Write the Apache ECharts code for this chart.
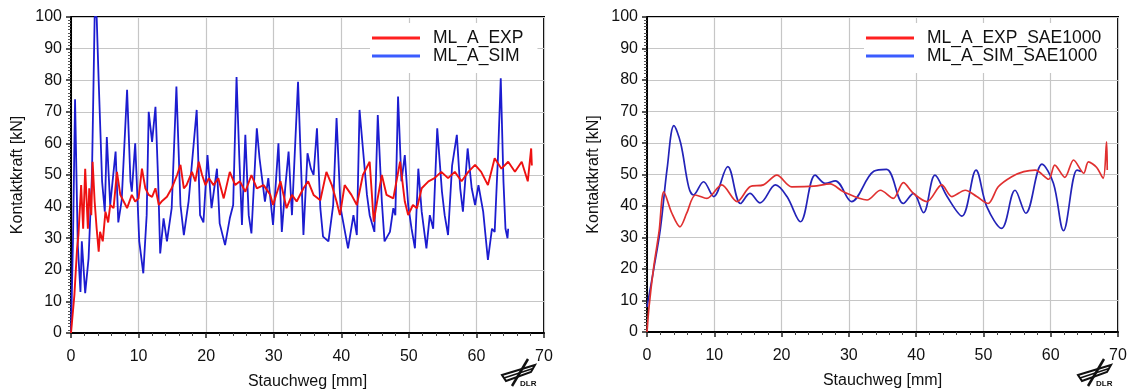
<!DOCTYPE html>
<html><head><meta charset="utf-8">
<script src="https://cdn.jsdelivr.net/npm/echarts@6/dist/echarts.min.js"></script>
<style>html,body{margin:0;padding:0;background:#fff}#c{width:1129px;height:392px}</style>
</head><body><div id="c"></div>
<script>
// ---- Data (x: Stauchweg [mm], y: Kontaktkraft [kN]) ----
const xTicks = [0,10,20,30,40,50,60,70];
const yTicks = [0,10,20,30,40,50,60,70,80,90,100];
const namesLeft = ['ML_A_EXP','ML_A_SIM'];
const namesRight = ['ML_A_EXP_SAE1000','ML_A_SIM_SAE1000'];

const expA = [[0,0],[0.5,12],[0.9,26.8],[1.1,31],[1.5,46.8],[1.8,33],[2.1,52],[2.5,33],[2.7,45.8],[3,37.3],[3.2,54.2],[3.5,41.6],[3.8,33],[4.1,25.7],[4.3,32],[4.7,29],[5.1,38.4],[5.5,35],[5.8,40.5],[6.3,39.5],[6.8,51],[7.3,43.7],[7.8,41.6],[8.3,39.5],[9,43.7],[9.5,41.6],[10,42.6],[10.5,52],[11,45.8],[11.5,43.7],[12,43.1],[12.5,45.8],[13,40.5],[13.4,41.6],[14.2,43.1],[14.9,45.8],[15.7,50],[16.2,53.2],[16.7,45.8],[17.1,46.8],[17.9,51],[18.4,48],[18.9,54.2],[19.4,50],[19.9,46.8],[20.4,49],[21.1,46.8],[21.8,49],[22.6,42.6],[23.5,51],[24.3,46.8],[25,48],[25.8,44.7],[26.7,50],[27.5,45.8],[28.5,46.8],[29.5,43.7],[29.9,40.5],[31,48],[31.9,39.5],[32.7,43.7],[33.4,41.6],[34.4,45.8],[35.1,48],[35.9,43.7],[36.9,42],[37.8,51],[38.6,46.8],[39.3,41.6],[39.8,37.3],[40.5,46.8],[41.5,43.7],[42.3,40.5],[43.2,50],[44.2,54.2],[44.8,35.2],[45.3,41.6],[46,50],[46.7,43.7],[47.7,42.6],[48.7,54.2],[49.4,41.6],[49.9,37.3],[50.6,40.5],[51.2,39.5],[51.9,45.8],[52.9,48],[53.8,49],[54.8,51],[55.8,49],[56.8,51],[57.8,48],[58.8,51],[59.8,53.2],[60.7,51],[61.7,46.8],[62.7,55.3],[63.7,52],[64.7,54.2],[65.7,51],[66.7,54.2],[67.6,48],[68.1,58.4],[68.2,53]];

const simA = [[0,0],[0.3,30],[0.6,74],[1,28],[1.4,13],[1.6,29],[2.1,12.6],[2.6,23.6],[3.1,50],[3.5,100],[3.8,100],[4.1,79.5],[4.6,48],[5,38.4],[5.3,62],[5.8,40.5],[6.6,57.4],[7,35],[7.5,42],[8.3,77],[8.8,48],[9,44.7],[9.5,60],[10.1,29],[10.7,18.9],[11.2,37.3],[11.5,70],[12,60.5],[12.5,71.6],[12.9,48],[13.2,25.2],[13.7,36.3],[14.2,29],[14.9,39.5],[15.6,78],[16.2,40.5],[16.7,31],[17.4,41.6],[18.6,70.6],[19.1,37.3],[19.6,35],[20.2,56.3],[20.8,39.5],[21.6,52],[22,34.7],[22.8,27.8],[23.5,36.3],[24,40.5],[24.5,81],[24.9,56],[25.3,34.2],[25.8,62.7],[26.3,37.3],[26.7,31.5],[27.5,64.8],[27.9,55.3],[28.7,41.6],[29.2,49],[29.9,34.2],[30.7,60],[31.2,32],[31.7,45.8],[32.2,57.4],[32.7,37.3],[33.6,79.5],[34.4,31],[35,56.9],[35.5,52],[35.9,50],[36.4,64.8],[36.9,39.5],[37.3,30.5],[38.1,29],[38.8,40.5],[39.3,68],[39.9,39.5],[41,26.8],[41.8,37.3],[42.3,31],[42.7,70.6],[43.2,58.4],[43.8,43.7],[44.2,37.3],[44.9,32],[45.4,69],[46,41.6],[46.4,29],[47.2,32],[47.7,39.5],[48,37.3],[48.4,74.8],[48.9,48],[49.4,56.3],[49.9,40.5],[50.4,33],[50.9,26.8],[51.4,52],[51.9,38.4],[52.6,26.8],[53.1,37.3],[53.6,33],[54.2,64.8],[54.9,44.7],[55.3,37.3],[55.8,31],[56.4,53],[57.1,62.7],[57.6,45.8],[58,38.4],[58.7,58.4],[59.3,45.8],[59.8,40.5],[60.3,46.8],[61,38.4],[61.7,23.1],[62.3,33],[62.7,32],[63.2,56.3],[63.6,80.6],[64,48],[64.3,33],[64.6,30],[64.7,33]];

const expSAE = [[0,0],[0.3,8],[1,20.7],[1.8,32],[2.5,44.5],[3.7,37.7],[4.9,33.4],[5.9,37.7],[7.2,43.5],[8.9,42.4],[11.1,46.7],[13.4,41.4],[15.3,46.1],[17.3,46.7],[19.3,49.8],[21.5,46.1],[24.8,46.3],[27.2,47],[29.2,44.5],[32.7,41.9],[34.7,45],[36.6,42.4],[38.1,47.4],[39.6,44],[41.6,41.4],[43.8,46.7],[45.3,43],[47.3,45],[49,43],[50.7,40.8],[52.2,46.1],[54.2,49.3],[56,50.9],[57.7,51.4],[59.7,48.5],[60.6,53],[62.1,49.1],[63.4,54.6],[64.9,50.4],[65.6,54],[66.8,52.3],[67.8,48.8],[68.3,60.4],[68.4,51.4]];

const simSAE = [[0,8],[1,20],[2,33],[3,52],[4,65.5],[5,60],[6.2,46],[6.9,43.5],[8.4,47.7],[9.9,43],[12,52.5],[13.9,40.8],[15.3,44],[16.8,41],[19.1,46.7],[20.8,43],[22.8,35],[25,49.8],[26.5,47.2],[28,48],[30.4,41.4],[33.7,51],[35.6,51.6],[38.1,40.8],[39.6,44],[41.1,37.9],[42.8,49.8],[44.6,43],[46.8,36.8],[48.9,51.4],[50.5,39.8],[52.7,32.9],[54.7,45],[56.3,37.7],[58.7,53.3],[60.4,47.2],[61.9,32.2],[63.9,51.4],[64.5,51]];

// ---- Styles ----
const FONT = 'Liberation Sans, Arial, Helvetica, sans-serif';
const RED = '#ee1111', BLUE = '#1c1cd0';

function xAxisFor(gi){
  return {
    type:'value', gridIndex:gi, min:xTicks[0], max:xTicks[xTicks.length-1], interval:10,
    name:'Stauchweg [mm]', nameLocation:'middle', nameGap:41,
    nameTextStyle:{fontFamily:FONT, fontSize:16, color:'#111'},
    axisLine:{show:true, onZero:false, lineStyle:{color:'#000', width:2}},
    axisTick:{show:true, length:5, inside:false, lineStyle:{color:'#222', width:1.5}},
    minorTick:{show:true, splitNumber:5, length:3, lineStyle:{color:'#444'}},
    axisLabel:{fontFamily:FONT, fontSize:16, color:'#111', margin:16},
    splitLine:{show:true, lineStyle:{color:'#c6c6c6', width:1.2}}
  };
}
function yAxisFor(gi){
  return {
    type:'value', gridIndex:gi, min:yTicks[0], max:yTicks[yTicks.length-1], interval:10,
    name:'Kontaktkraft [kN]', nameLocation:'middle', nameGap:45,
    nameTextStyle:{fontFamily:FONT, fontSize:16, color:'#111'},
    axisLine:{show:true, onZero:false, lineStyle:{color:'#000', width:2}},
    axisTick:{show:true, length:5, lineStyle:{color:'#222', width:1.5}},
    minorTick:{show:true, splitNumber:10, length:3, lineStyle:{color:'#555'}},
    axisLabel:{fontFamily:FONT, fontSize:16, color:'#111', margin:9},
    splitLine:{show:true, lineStyle:{color:'#c6c6c6', width:1.2}}
  };
}

function logo(cx, cy){
  return [
    {type:'polyline', shape:{points:[[cx+9,cy-14],[cx-7,cy+13]]}, style:{stroke:'#111', lineWidth:2.5, fill:null}},
    {type:'polygon', shape:{points:[[cx-17,cy+2],[cx+16,cy-8],[cx+12,cy-1],[cx-13,cy+8]]}, style:{stroke:'#111', lineWidth:2, fill:null}},
    {type:'polyline', shape:{points:[[cx-15,cy+5],[cx+14,cy-4.5]]}, style:{stroke:'#111', lineWidth:1.5, fill:null}},
    {type:'text', style:{text:'DLR', x:cx+1, y:cy+7, font:'bold 8px '+FONT, fill:'#111'}}
  ];
}

function legendFor(left, names){
  return {orient:'vertical', left:left, top:23, itemWidth:48, itemHeight:3, itemGap:0, icon:'rect',
    backgroundColor:'#fff', padding:[6,14,8,2],
    textStyle:{fontFamily:FONT, fontSize:17.5, color:'#111', lineHeight:16, padding:[0,0,0,8]},
    data:[{name:names[0], itemStyle:{color:'#ff2020'}},{name:names[1], itemStyle:{color:'#3b5cff'}}]};
}

const chart = echarts.init(document.getElementById('c'));
chart.setOption({
  animation:false,
  backgroundColor:'#fff',
  grid:[
    {left:71, top:17, right:585, bottom:59, show:true, borderColor:'#000', borderWidth:2, containLabel:false, outerBoundsMode:'none'},
    {left:647, top:17, right:11, bottom:60, show:true, borderColor:'#000', borderWidth:2, containLabel:false, outerBoundsMode:'none'}
  ],
  xAxis:[xAxisFor(0), xAxisFor(1)],
  yAxis:[yAxisFor(0), yAxisFor(1)],
  legend:[legendFor(370, namesLeft), legendFor(864, namesRight)],
  series:[
    {name:namesLeft[1], type:'line', xAxisIndex:0, yAxisIndex:0, data:simA, showSymbol:false, clip:true,
     lineStyle:{color:BLUE, width:1.8}, itemStyle:{color:BLUE}},
    {name:namesLeft[0], type:'line', xAxisIndex:0, yAxisIndex:0, data:expA, showSymbol:false, clip:true,
     lineStyle:{color:RED, width:1.9}, itemStyle:{color:RED}},
    {name:namesRight[1], type:'line', xAxisIndex:1, yAxisIndex:1, data:simSAE, showSymbol:false, smooth:0.35, clip:true,
     lineStyle:{color:'#2323b8', width:1.7}, itemStyle:{color:'#2323b8'}},
    {name:namesRight[0], type:'line', xAxisIndex:1, yAxisIndex:1, data:expSAE, showSymbol:false, smooth:0.3, clip:true,
     lineStyle:{color:'#e03030', width:1.7}, itemStyle:{color:'#e03030'}}
  ],
  graphic: logo(519, 373).concat(logo(1095, 373))
});
</script>
</body></html>
